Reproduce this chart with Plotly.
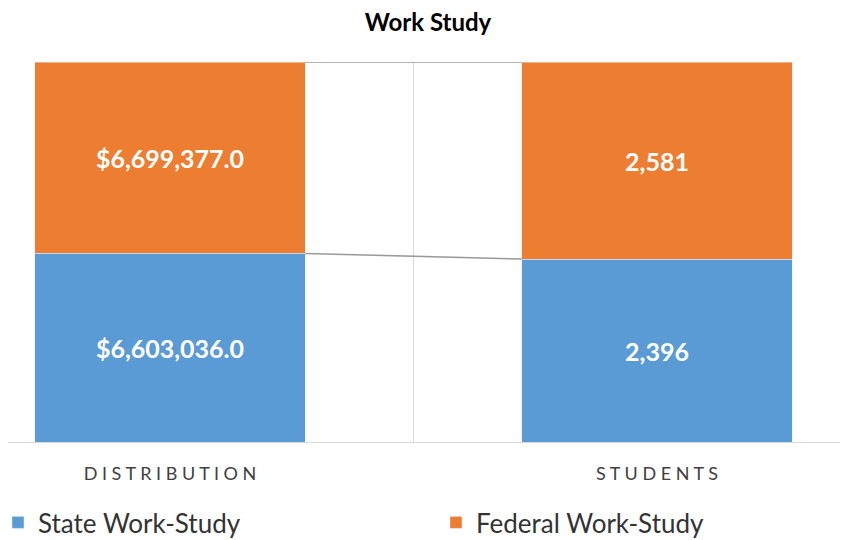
import plotly.graph_objects as go

categories = ["DISTRIBUTION", "STUDENTS"]
tick_labels = [" ".join(c) for c in categories]  # spaced-out caps like the original
state_values = [6603036.0, 2396]
federal_values = [6699377.0, 2581]
state_text = ["$6,603,036.0", "2,396"]
federal_text = ["$6,699,377.0", "2,581"]

blue = "#5B9BD5"
orange = "#ED7D31"
bar_w = 0.555

x = [0, 1]
label_font = dict(color="white", size=25, family="Lato", weight="bold")

fig = go.Figure()
fig.add_trace(go.Bar(x=x, y=state_values, name="State Work-Study", marker_color=blue,
                     width=bar_w, text=state_text, textposition="inside", insidetextanchor="middle",
                     textfont=label_font, hoverinfo="skip", legend="legend"))
fig.add_trace(go.Bar(x=x, y=federal_values, name="Federal Work-Study", marker_color=orange,
                     width=bar_w, text=federal_text, textposition="inside", insidetextanchor="middle",
                     textfont=label_font, hoverinfo="skip", legend="legend2"))

# series lines between the stacks (percent of each stack)
state_pct = [s / (s + f) * 100 for s, f in zip(state_values, federal_values)]
line_x = [x[0] + bar_w / 2, x[1] - bar_w / 2]
for ys in (state_pct, [100, 100]):
    fig.add_trace(go.Scatter(x=line_x, y=ys, mode="lines", line=dict(color="#9a9a9a", width=1.5),
                             showlegend=False, hoverinfo="skip"))

# divider between categories
fig.add_shape(type="line", x0=0.5, x1=0.5, y0=0, y1=1, xref="x", yref="paper",
              line=dict(color="#d9d9d9", width=1), layer="below")

legend_font = dict(size=26, color="#333333", family="Lato")
# page body has an 8px margin, so the figure is 8px smaller than the window
fig.update_layout(
    width=840, height=532,
    barmode="stack", barnorm="percent",
    plot_bgcolor="white", paper_bgcolor="white",
    margin=dict(l=0, r=8, t=54, b=98, autoexpand=False),
    title=dict(text="<b>Work Study</b>", x=0.5, xanchor="center", y=0.972, yanchor="middle",
               font=dict(size=24, color="black", family="Lato")),
    xaxis=dict(range=[-0.3326, 1.3758], tickvals=x, ticktext=tick_labels,
               showgrid=False, zeroline=False, showline=True, linecolor="#d9d9d9", linewidth=1,
               ticks="", ticklabelstandoff=15,
               tickfont=dict(size=18, color="#404040", family="Lato")),
    yaxis=dict(range=[0, 100], visible=False, showgrid=False),
    legend=dict(orientation="h", x=-0.012, xanchor="left", y=-0.15, yanchor="top",
                font=legend_font, bgcolor="rgba(0,0,0,0)"),
    legend2=dict(orientation="h", x=0.5144, xanchor="left", y=-0.15, yanchor="top",
                 font=legend_font, bgcolor="rgba(0,0,0,0)"),
    uniformtext=dict(mode="show", minsize=10),
)

fig.write_html("out.html")
